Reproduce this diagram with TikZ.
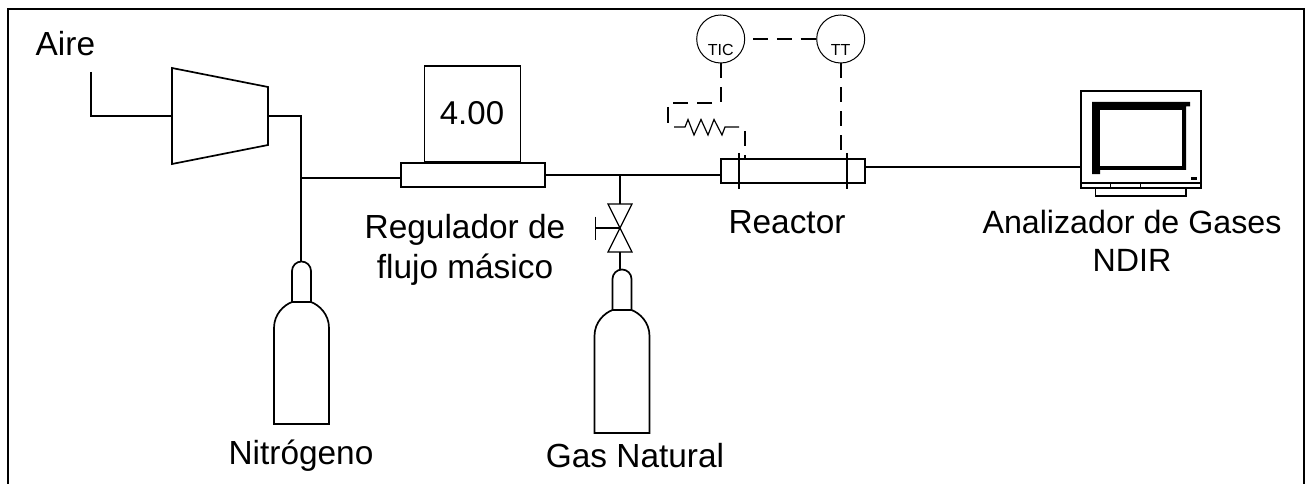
\documentclass[tikz,border=0pt]{standalone}
\usepackage{fontspec}
\setmainfont{Liberation Sans}
\tikzset{
  pipe/.style={draw=black,line width=1.7pt},
  thinln/.style={draw=black,line width=1.2pt},
  sig/.style={draw=black,line width=1.7pt,dash pattern=on 15pt off 9pt},
  lbl/.style={inner sep=0pt,font=\fontsize{33.4}{40}\selectfont,align=center,text=black},
  instr/.style={circle,draw=black,line width=1pt,minimum size=48pt,inner sep=0pt,fill=white},
  small/.style={inner sep=0pt,font=\fontsize{16}{18}\selectfont,text=black},
  eqbox/.style={draw=black,line width=1.7pt,fill=white,inner sep=0pt}
}
\newcommand{\bottle}[5]{% cx, neck top y, neck half w, body half w, bottom y
  \draw[pipe,fill=white] (#1-#3,#2+41) -- (#1-#3,#2+10) arc[start angle=180,end angle=360,radius=#3] -- (#1+#3,#2+41);
  \draw[pipe,fill=white] (#1-#4,#5) -- (#1-#4,#2+67) .. controls (#1-#4,#2+53) and (#1-#3-8,#2+44) .. (#1-#3,#2+41) -- (#1+#3,#2+41) .. controls (#1+#3+8,#2+44) and (#1+#4,#2+53) .. (#1+#4,#2+67) -- (#1+#4,#5) -- cycle;
}
\begin{document}
\begin{tikzpicture}[x=1pt,y=-1pt]
\useasboundingbox (0,0) rectangle (1312,484);
% frame
\draw[line width=2.3pt] (8,484) -- (8,9) -- (1304,9) -- (1304,484);
% compressor
\draw[pipe,fill=white] (172,68) -- (268,87) -- (268,145) -- (172,164) -- cycle;
\coordinate (cin) at (172,116);
\coordinate (cout) at (268,116);
\coordinate (airend) at (91,72);
\coordinate (j1) at (301,178);
\draw[pipe] (airend) |- (cin);
\draw[pipe] (cout) -| (j1);
% nitrogen
\coordinate (n2top) at (301,262);
\draw[pipe] (j1) -- (n2top);
\bottle{301.5}{261}{9.5}{27.5}{424}
% MFC
\node[eqbox,minimum width=96pt,minimum height=96pt,anchor=south] (disp) at (472.5,163) {};
\node[inner sep=0pt,font=\fontsize{33}{38}\selectfont] (val) at (472,113) {4.00};
\node[eqbox,minimum width=144pt,minimum height=24pt] (mfc) at (472.8,175) {};
\draw[pipe] (j1) -- (mfc.west |- j1);
% line to reactor
\node[eqbox,minimum width=144pt,minimum height=24pt] (reactor) at (793,171) {};
\draw[pipe] (mfc.east |- 0,175) -- (reactor.west |- 0,175);
\coordinate (t1) at (620,175);
% reactor ticks
\draw[pipe] (738.7,153) -- (738.7,189);
\draw[pipe] (846.7,153) -- (846.7,189);
% valve
\coordinate (vc) at (620,228);
\draw[pipe] (t1) -- (620,204);
\draw[thinln,fill=white] (608,204) -- (632,204) -- (608,252) -- (632,252) -- cycle;
\draw[thinln] (vc) -- (595.5,228);
\draw[thinln] (595.5,216.5) -- (595.5,240);
\draw[pipe] (620,252) -- (620,272);
\bottle{622}{269}{9.5}{27.5}{433}
% monitor
\coordinate (mleft) at (1080,167);
\draw[pipe] (reactor.east |- mleft) -- (mleft);
\draw[pipe,fill=white] (1080.7,91) rectangle (1200.7,188);
\draw[pipe] (1080.7,183) -- (1200.7,183);
\draw[thinln] (1110.7,183) -- (1110.7,188) (1140.7,183) -- (1140.7,188);
\draw[pipe,fill=white] (1095.5,188) rectangle (1186,196);
\fill (1092,102) -- (1190,102) -- (1190,106.5) -- (1186,106.5) -- (1186,170) -- (1100,170) -- (1100,174) -- (1092,174)-- cycle;
\fill[white] (1100,110) rectangle (1182,166);
\fill (1191,177) rectangle (1197,180);
% instruments
\node[instr] (tic) at (720.7,39) {};
\node[instr] (tt) at (840.7,39) {};
\node[small] (ticl) at (720.7,50) {TIC};
\node[small] (ttl) at (840.7,50) {TT};
\draw[sig,dash pattern=on 15pt off 8.7pt] ([xshift=8pt]tic.east) -- (tt.west);
\draw[sig] (tic.south) -- (720.7,103) -- (672,103);
\draw[pipe] (668.3,107) -- (668.3,123);
\draw[sig,dash pattern=on 15pt off 9pt] (tt.south) -- (840.7,160);
\draw[pipe] (825,159) -- (840,159);
% heater
\draw[thinln] (674,127) -- (685,127) -- (688,119.5) -- (694,135) -- (701,119.5) -- (708,135) -- (714,119.5) -- (722,135) -- (725,127) -- (739,127);
\draw[pipe] (744.7,131) -- (744.7,146) (744.7,155) -- (744.7,160);
% labels
\node[lbl,anchor=west] (aire) at (35.5,43.5) {Aire};
\node[lbl] (reg) at (465,250) {Regulador de\\flujo másico};
\node[lbl] (nit) at (301,456) {Nitrógeno};
\node[lbl] (gn) at (635,456) {Gas Natural};
\node[lbl] (rea) at (787,222) {Reactor};
\node[lbl,font=\fontsize{32.2}{38}\selectfont] (ana) at (1132,241) {Analizador de Gases\\NDIR};
\end{tikzpicture}
\end{document}
